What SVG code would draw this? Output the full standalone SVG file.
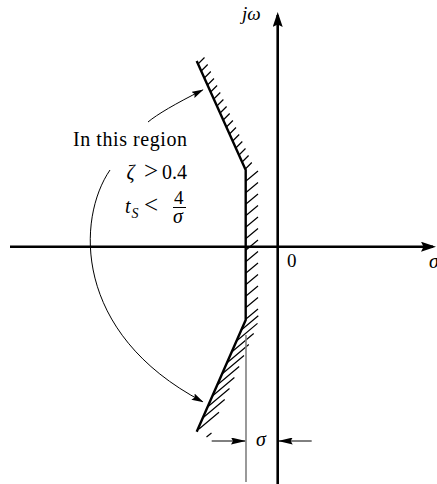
<svg xmlns="http://www.w3.org/2000/svg" width="437" height="484" viewBox="0 0 437 484">
<style>
.axis{stroke:#000;stroke-width:2.6;fill:none}
.bound{stroke:#000;stroke-width:2.4;fill:none;stroke-linejoin:miter}
.hatch{stroke:#000;stroke-width:1.2;fill:none}
.thin{stroke:#000;stroke-width:1;fill:none}
.gray{stroke:#808080;stroke-width:1.6;fill:none}
.t{font-family:"Liberation Serif","Times New Roman",serif;fill:#000}
.i{font-style:italic}
</style>
<defs>
<marker id="axh" markerUnits="userSpaceOnUse" viewBox="0 0 15 10" refX="12" refY="5" markerWidth="15" markerHeight="10" orient="auto">
<path d="M0,0 L15,5 L0,10 L2.5,5 z" fill="#000"/>
</marker>
<marker id="ah" markerUnits="userSpaceOnUse" viewBox="0 0 12 7" refX="11" refY="3.5" markerWidth="12" markerHeight="7" orient="auto">
<path d="M0,0 L12,3.5 L0,7 L2,3.5 z" fill="#000"/>
</marker>
<marker id="dh" markerUnits="userSpaceOnUse" viewBox="0 0 15 7" refX="14" refY="3.5" markerWidth="15" markerHeight="7" orient="auto">
<path d="M0,0 L15,3.5 L0,7 L2,3.5 z" fill="#000"/>
</marker>
</defs>

<g id="axes">
<line class="axis" x1="277.7" y1="484" x2="277.7" y2="15" marker-end="url(#axh)"/>
<line class="axis" x1="10" y1="246.7" x2="433" y2="246.7" marker-end="url(#axh)"/>
<text class="t i" x="242" y="20" font-size="19">jω</text>
<text class="t" x="287" y="267" font-size="19">0</text>
<text class="t i" x="429" y="268" font-size="20">σ</text>
</g>

<g id="boundary">
<polyline class="bound" points="196.7,61 245.7,170 245.7,320 196.7,431.7"/>
</g>

<g id="hatching">
<path class="hatch" d="M198,64l6.5,-6.5M201.2,71l6.5,-6.5M204.3,78l6.5,-6.5M207.5,85l6.5,-6.5M210.6,92l6.5,-6.5M213.8,99l6.5,-6.5M216.9,106l6.5,-6.5M220.1,113l6.5,-6.5M223.2,120l6.5,-6.5M226.4,127l6.5,-6.5M229.5,134l6.5,-6.5M232.7,141l6.5,-6.5M235.8,148l6.5,-6.5M239,155l6.5,-6.5M242.1,162l6.5,-6.5M245.3,169l6.5,-6.5"/>
<path class="hatch" d="M246,181l12,-10M246,192.5l12,-10M246,204l12,-10M246,215.5l12,-10M246,227l12,-10M246,238.5l12,-10M246,250l12,-10M246,261.5l12,-10M246,273l12,-10M246,284.5l12,-10M246,296l12,-10M246,307.5l12,-10M246,319l12,-10"/>
<path class="hatch" d="M241.3,330l17,-14.3M236.5,341l21,-17.6M231.7,352l22,-18.5M226.8,363l22,-18.5M222,374l22,-18.5M217.2,385l22,-18.5M212.4,396l22,-18.5M207.5,407l22,-18.5M202.7,418l22,-18.5M199,429l20,-16.8M206.5,437l5,-4"/>
</g>

<g id="sigma-dimension">
<line class="gray" x1="246" y1="335" x2="246" y2="482"/>
<line class="thin" x1="211.7" y1="441" x2="245" y2="441" marker-end="url(#dh)"/>
<line class="thin" x1="311.7" y1="441" x2="278.7" y2="441" marker-end="url(#dh)"/>
<text class="t i" x="256" y="446" font-size="20">σ</text>
</g>

<g id="region-label">
<text class="t" x="73" y="145.5" font-size="20" textLength="114" lengthAdjust="spacing">In this region</text>
<text class="t" y="178.5" font-size="20"><tspan class="i" x="126.5">ζ</tspan><tspan x="144" font-size="25" dy="0.5">&gt;</tspan><tspan x="162" dy="-0.5">0.4</tspan></text>
<text class="t" y="212.5" font-size="20"><tspan class="i" x="125">t</tspan><tspan class="i" x="131.5" font-size="14" dy="5">S</tspan><tspan x="144" dy="-4.5" font-size="25">&lt;</tspan></text>
<text class="t" x="174" y="203.5" font-size="19">4</text>
<line x1="173" y1="207.5" x2="186" y2="207.5" stroke="#000" stroke-width="1"/>
<text class="t i" x="173" y="222.5" font-size="20">σ</text>
</g>

<g id="connectors">
<path class="thin" d="M148,122 Q161.6,110.6 202.7,90" marker-end="url(#ah)"/>
<path class="thin" d="M110,170 C77,218 72,333 202.7,401.7" marker-end="url(#ah)"/>
</g>
</svg>
